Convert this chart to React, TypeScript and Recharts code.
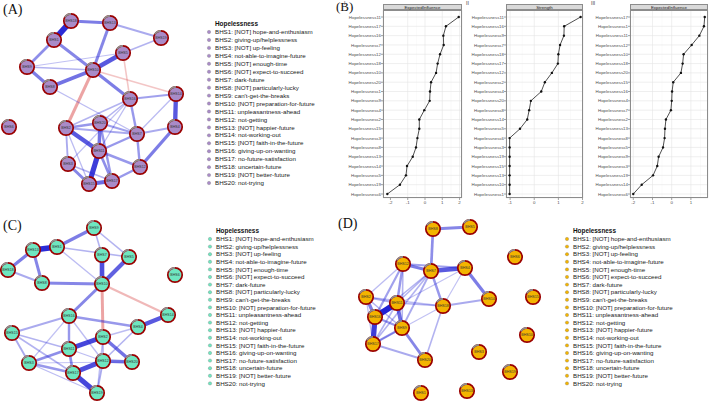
import React from "react";
import {
  ScatterChart,
  Scatter,
  XAxis,
  YAxis,
  LineChart,
  Line,
  CartesianGrid,
} from "recharts";

// legend texts shared by the three network panels
const bhsLabels = [
  "BHS1: [NOT] hope-and-enthusiasm",
  "BHS2: giving-up/helplessness",
  "BHS3: [NOT] up-feeling",
  "BHS4: not-able-to-imagine-future",
  "BHS5: [NOT] enough-time",
  "BHS6: [NOT] expect-to-succeed",
  "BHS7: dark-future",
  "BHS8: [NOT] particularly-lucky",
  "BHS9: can't-get-the-breaks",
  "BHS10: [NOT] preparation-for-future",
  "BHS11: unpleasantness-ahead",
  "BHS12: not-getting",
  "BHS13: [NOT] happier-future",
  "BHS14: not-working-out",
  "BHS15: [NOT] faith-in-the-future",
  "BHS16: giving-up-on-wanting",
  "BHS17: no-future-satisfaction",
  "BHS18: uncertain-future",
  "BHS19: [NOT] better-future",
  "BHS20: not-trying",
];

type Node = { id: string; x: number; y: number };
type Edge = [string, string, number];

// layout coordinates (qgraph style, -1..1)
const nodesA: Node[] = [
  { id: "BHS18", x: -0.29, y: 0.79 },
  { id: "BHS13", x: 0.1, y: 0.77 },
  { id: "BHS1", x: -0.46, y: 0.6 },
  { id: "BHS19", x: 0.61, y: 0.62 },
  { id: "BHS5", x: 0.23, y: 0.47 },
  { id: "BHS9", x: -0.73, y: 0.33 },
  { id: "BHS10", x: -0.07, y: 0.3 },
  { id: "BHS8", x: -0.5, y: 0.13 },
  { id: "BHS14", x: 0.76, y: 0.06 },
  { id: "BHS16", x: 0.3, y: 0.01 },
  { id: "BHS6", x: -0.91, y: -0.27 },
  { id: "BHS2", x: -0.34, y: -0.28 },
  { id: "BHS20", x: 0.0, y: -0.23 },
  { id: "BHS7", x: 0.37, y: -0.34 },
  { id: "BHS4", x: 0.75, y: -0.27 },
  { id: "BHS11", x: -0.01, y: -0.51 },
  { id: "BHS3", x: -0.32, y: -0.64 },
  { id: "BHS12", x: 0.4, y: -0.67 },
  { id: "BHS15", x: -0.11, y: -0.84 },
  { id: "BHS17", x: 0.12, y: -0.81 },
];

const edgesA: Edge[] = [
  ["BHS18", "BHS1", 0.95],
  ["BHS18", "BHS13", 0.5],
  ["BHS13", "BHS10", 0.45],
  ["BHS13", "BHS19", 0.25],
  ["BHS19", "BHS5", 0.2],
  ["BHS1", "BHS9", 0.4],
  ["BHS1", "BHS10", 0.45],
  ["BHS9", "BHS8", 0.5],
  ["BHS9", "BHS10", 0.2],
  ["BHS9", "BHS5", 0.12],
  ["BHS5", "BHS10", 0.7],
  ["BHS8", "BHS10", 0.55],
  ["BHS10", "BHS16", 0.5],
  ["BHS10", "BHS2", -0.45],
  ["BHS10", "BHS14", -0.2],
  ["BHS5", "BHS16", -0.2],
  ["BHS14", "BHS16", 0.3],
  ["BHS14", "BHS4", 0.7],
  ["BHS8", "BHS7", 0.15],
  ["BHS16", "BHS2", 0.2],
  ["BHS16", "BHS20", 0.2],
  ["BHS16", "BHS7", 0.35],
  ["BHS16", "BHS11", 0.15],
  ["BHS16", "BHS3", 0.12],
  ["BHS2", "BHS20", 0.35],
  ["BHS2", "BHS7", 0.25],
  ["BHS2", "BHS11", 0.7],
  ["BHS2", "BHS3", 0.25],
  ["BHS2", "BHS15", 0.15],
  ["BHS20", "BHS11", 0.55],
  ["BHS20", "BHS17", 0.35],
  ["BHS20", "BHS7", 0.3],
  ["BHS11", "BHS15", 0.85],
  ["BHS11", "BHS17", 0.4],
  ["BHS11", "BHS12", 0.35],
  ["BHS7", "BHS4", 0.25],
  ["BHS7", "BHS11", 0.35],
  ["BHS7", "BHS12", 0.35],
  ["BHS4", "BHS12", 0.5],
  ["BHS3", "BHS15", 0.45],
  ["BHS3", "BHS17", 0.2],
  ["BHS15", "BHS17", 0.6],
  ["BHS17", "BHS12", 0.35],
  ["BHS14", "BHS7", 0.15],
];

const nodesC: Node[] = [
  { id: "BHS9", x: -0.06, y: 0.77 },
  { id: "BHS13", x: -0.67, y: 0.55 },
  { id: "BHS1", x: -0.43, y: 0.58 },
  { id: "BHS7", x: 0.02, y: 0.5 },
  { id: "BHS5", x: 0.29, y: 0.48 },
  { id: "BHS18", x: -0.92, y: 0.35 },
  { id: "BHS6", x: 0.75, y: 0.3 },
  { id: "BHS8", x: -0.58, y: 0.22 },
  { id: "BHS10", x: 0.02, y: 0.21 },
  { id: "BHS16", x: -0.31, y: -0.11 },
  { id: "BHS14", x: 0.68, y: -0.1 },
  { id: "BHS15", x: -0.88, y: -0.28 },
  { id: "BHS4", x: 0.38, y: -0.22 },
  { id: "BHS2", x: 0.03, y: -0.32 },
  { id: "BHS11", x: -0.31, y: -0.44 },
  { id: "BHS3", x: -0.71, y: -0.58 },
  { id: "BHS12", x: 0.03, y: -0.56 },
  { id: "BHS20", x: 0.32, y: -0.57 },
  { id: "BHS17", x: -0.27, y: -0.68 },
  { id: "BHS19", x: -0.03, y: -0.88 },
];

const edgesC: Edge[] = [
  ["BHS9", "BHS1", 0.5],
  ["BHS9", "BHS7", 0.2],
  ["BHS9", "BHS5", 0.2],
  ["BHS13", "BHS1", 0.95],
  ["BHS13", "BHS18", 0.5],
  ["BHS13", "BHS8", 0.45],
  ["BHS1", "BHS5", 0.2],
  ["BHS1", "BHS10", 0.15],
  ["BHS18", "BHS8", 0.25],
  ["BHS8", "BHS10", 0.45],
  ["BHS7", "BHS10", 0.75],
  ["BHS5", "BHS10", 0.65],
  ["BHS10", "BHS16", 0.45],
  ["BHS10", "BHS2", -0.45],
  ["BHS10", "BHS14", -0.3],
  ["BHS14", "BHS4", 0.7],
  ["BHS16", "BHS4", 0.35],
  ["BHS16", "BHS15", 0.25],
  ["BHS16", "BHS3", 0.12],
  ["BHS16", "BHS11", 0.35],
  ["BHS16", "BHS12", 0.15],
  ["BHS15", "BHS11", 0.2],
  ["BHS15", "BHS3", 0.25],
  ["BHS15", "BHS17", 0.2],
  ["BHS4", "BHS2", 0.15],
  ["BHS4", "BHS12", 0.2],
  ["BHS2", "BHS11", 0.8],
  ["BHS2", "BHS20", 0.55],
  ["BHS2", "BHS12", 0.2],
  ["BHS11", "BHS3", 0.4],
  ["BHS11", "BHS17", 0.4],
  ["BHS11", "BHS12", 0.15],
  ["BHS3", "BHS17", 0.35],
  ["BHS3", "BHS20", 0.1],
  ["BHS12", "BHS20", 0.55],
  ["BHS12", "BHS17", 0.75],
  ["BHS17", "BHS19", 0.8],
  ["BHS12", "BHS19", 0.25],
  ["BHS3", "BHS19", 0.15],
  ["BHS2", "BHS19", 0.15],
];

const nodesD: Node[] = [
  { id: "BHS8", x: -0.22, y: 0.76 },
  { id: "BHS5", x: 0.15, y: 0.78 },
  { id: "BHS6", x: 0.6, y: 0.48 },
  { id: "BHS12", x: -0.52, y: 0.41 },
  { id: "BHS7", x: -0.24, y: 0.34 },
  { id: "BHS4", x: 0.1, y: 0.37 },
  { id: "BHS2", x: -0.89, y: 0.08 },
  { id: "BHS11", x: -0.58, y: 0.02 },
  { id: "BHS18", x: -0.12, y: -0.01 },
  { id: "BHS14", x: 0.34, y: 0.06 },
  { id: "BHS15", x: 0.78, y: 0.08 },
  { id: "BHS16", x: -0.8, y: -0.12 },
  { id: "BHS9", x: -0.53, y: -0.23 },
  { id: "BHS10", x: 0.72, y: -0.3 },
  { id: "BHS17", x: -0.82, y: -0.39 },
  { id: "BHS3", x: 0.24, y: -0.47 },
  { id: "BHS20", x: -0.3, y: -0.55 },
  { id: "BHS19", x: 0.55, y: -0.67 },
  { id: "BHS1", x: -0.34, y: -0.88 },
  { id: "BHS13", x: 0.12, y: -0.86 },
];

const edgesD: Edge[] = [
  ["BHS8", "BHS5", 0.45],
  ["BHS8", "BHS7", 0.4],
  ["BHS12", "BHS7", 0.5],
  ["BHS7", "BHS4", 0.7],
  ["BHS12", "BHS4", 0.3],
  ["BHS12", "BHS2", 0.15],
  ["BHS12", "BHS11", 0.35],
  ["BHS12", "BHS16", 0.3],
  ["BHS12", "BHS9", 0.2],
  ["BHS7", "BHS18", 0.35],
  ["BHS7", "BHS11", 0.2],
  ["BHS7", "BHS16", 0.2],
  ["BHS7", "BHS17", 0.2],
  ["BHS7", "BHS9", 0.25],
  ["BHS4", "BHS14", 0.5],
  ["BHS4", "BHS18", 0.12],
  ["BHS4", "BHS16", 0.12],
  ["BHS2", "BHS11", 0.25],
  ["BHS2", "BHS16", 0.5],
  ["BHS2", "BHS9", 0.2],
  ["BHS2", "BHS18", 0.15],
  ["BHS11", "BHS16", 1.0],
  ["BHS11", "BHS9", 0.6],
  ["BHS11", "BHS18", 0.2],
  ["BHS11", "BHS17", 0.2],
  ["BHS16", "BHS17", 0.85],
  ["BHS16", "BHS9", 0.35],
  ["BHS17", "BHS9", 0.35],
  ["BHS17", "BHS20", 0.25],
  ["BHS9", "BHS20", 0.45],
  ["BHS18", "BHS14", 0.25],
  ["BHS18", "BHS20", 0.2],
  ["BHS18", "BHS17", 0.12],
  ["BHS2", "BHS17", 0.15],
];

// centrality plots (top to bottom)
const centINames = [
  "Hopelessness11", "Hopelessness17", "Hopelessness16", "Hopelessness7",
  "Hopelessness12", "Hopelessness18", "Hopelessness10", "Hopelessness20",
  "Hopelessness1", "Hopelessness9", "Hopelessness4", "Hopelessness2",
  "Hopelessness15", "Hopelessness3", "Hopelessness8", "Hopelessness13",
  "Hopelessness14", "Hopelessness5", "Hopelessness19", "Hopelessness6",
];
const centIValues = [
  1.95, 1.21, 1.06, 1.08, 0.87, 0.73, 0.64, 0.35, 0.29, 0.27,
  -0.04, -0.33, -0.33, -0.44, -0.52, -0.71, -1.04, -1.1, -1.45, -2.18,
];

const centIINames = [
  "Hopelessness11", "Hopelessness16", "Hopelessness9", "Hopelessness7",
  "Hopelessness18", "Hopelessness17", "Hopelessness12", "Hopelessness2",
  "Hopelessness4", "Hopelessness20", "Hopelessness8", "Hopelessness14",
  "Hopelessness5", "Hopelessness6", "Hopelessness3", "Hopelessness19",
  "Hopelessness15", "Hopelessness13", "Hopelessness10", "Hopelessness1",
];
const centIIValues = [
  1.92, 1.24, 1.23, 1.07, 1.0, 0.98, 0.73, 0.44, 0.29, -0.14,
  -0.21, -0.29, -0.59, -1.02, -1.02, -1.02, -1.02, -1.02, -1.02, -1.02,
];

const centIIINames = [
  "Hopelessness17", "Hopelessness1", "Hopelessness11", "Hopelessness12",
  "Hopelessness10", "Hopelessness18", "Hopelessness20", "Hopelessness15",
  "Hopelessness16", "Hopelessness4", "Hopelessness7", "Hopelessness2",
  "Hopelessness13", "Hopelessness8", "Hopelessness5", "Hopelessness9",
  "Hopelessness3", "Hopelessness19", "Hopelessness14", "Hopelessness6",
];
const centIIIValues = [
  1.72, 1.68, 1.44, 1.04, 0.62, 0.57, 0.48, 0.08, 0.02, 0.0,
  -0.04, -0.3, -0.35, -0.37, -0.45, -0.68, -0.75, -0.97, -1.56, -2.0,
];

const SANS = "'Liberation Sans', Arial, sans-serif";
const SERIF = "'Liberation Serif', 'Times New Roman', serif";

function NodeShape(props: any) {
  const { cx, cy, payload, color } = props;
  const r = 7.2;
  const ax = cx - 0.866 * r;
  const ay = cy - 0.5 * r;
  return (
    <g>
      <circle cx={cx} cy={cy} r={r} fill={color} stroke="#9a0000" strokeWidth={1.7} />
      <path
        d={`M${ax},${ay} A${r},${r} 0 0 1 ${cx},${cy - r}`}
        fill="none"
        stroke="#8f8f8f"
        strokeWidth={1.7}
      />
      <text
        x={cx}
        y={cy + 1.2}
        textAnchor="middle"
        fontSize={3.6}
        fill="#333"
        fontFamily={SANS}
      >
        {payload.id}
      </text>
    </g>
  );
}

function Network({
  nodes,
  edges,
  color,
  left,
  top,
}: {
  nodes: Node[];
  edges: Edge[];
  color: string;
  left: number;
  top: number;
}) {
  const byId: Record<string, Node> = {};
  nodes.forEach((n) => (byId[n.id] = n));
  return (
    <div style={{ position: "absolute", left, top }}>
      <ScatterChart width={200} height={200} margin={{ top: 0, right: 0, bottom: 0, left: 0 }}>
        <XAxis type="number" dataKey="x" domain={[-1, 1]} hide />
        <YAxis type="number" dataKey="y" domain={[-1, 1]} hide />
        {edges.map(([a, b, w], i) => (
          <Scatter
            key={i}
            data={[byId[a], byId[b]]}
            line={{
              stroke: w < 0 ? "#dd5a5a" : "#2222d4",
              strokeWidth: 0.5 + Math.abs(w) * 5.5,
              strokeOpacity: Math.min(1, 0.18 + Math.abs(w) * 0.82),
            }}
            shape={() => <g />}
            isAnimationActive={false}
          />
        ))}
        <Scatter
          data={nodes}
          shape={(p: any) => <NodeShape {...p} color={color} />}
          isAnimationActive={false}
        />
      </ScatterChart>
    </div>
  );
}

function NetLegend({
  left,
  top,
  color,
  step,
}: {
  left: number;
  top: number;
  color: string;
  step: number;
}) {
  return (
    <svg
      style={{ position: "absolute", left, top }}
      width={150}
      height={175}
      fontFamily={SANS}
    >
      <text x={10} y={8.2} fontSize={6.4} fontWeight="bold" fill="#111">
        Hopelessness
      </text>
      {bhsLabels.map((t, i) => (
        <g key={t}>
          <circle cx={4} cy={14 + i * step} r={1.7} fill={color} stroke="#777" strokeWidth={0.3} />
          <text x={10} y={16.1 + i * step} fontSize={6.2} fill="#222">
            {t}
          </text>
        </g>
      ))}
    </svg>
  );
}

function Centrality({
  names,
  values,
  domain,
  ticks,
  minor,
  title,
  left,
  width,
}: {
  names: string[];
  values: number[];
  domain: [number, number];
  ticks: number[];
  minor: number[];
  title: string;
  left: number;
  width: number;
}) {
  const data = names.map((n, i) => ({ name: n, value: values[i] }));
  const plotLeft = left + 38;
  const plotWidth = width - 39;
  return (
    <>
      <div style={{ position: "absolute", left, top: 0 }}>
        <LineChart
          layout="vertical"
          width={width}
          height={210}
          data={data}
          margin={{ top: 10, right: 1, bottom: 2, left: 2 }}
        >
          <CartesianGrid stroke="#f4f4f4" strokeWidth={0.5} horizontal={false} verticalValues={minor} />
          <CartesianGrid stroke="#e4e4e4" strokeWidth={0.6} />
          <XAxis
            type="number"
            dataKey="value"
            domain={domain}
            ticks={ticks}
            height={10}
            tickSize={2}
            tickMargin={1}
            axisLine={false}
            tickLine={{ stroke: "#444", strokeWidth: 0.5 }}
            tick={{ fontSize: 4.4, fill: "#4d4d4d", fontFamily: SANS }}
            allowDataOverflow
          />
          <YAxis
            type="category"
            dataKey="name"
            scale="point"
            width={36}
            interval={0}
            tickSize={2}
            tickMargin={0}
            axisLine={false}
            tickLine={{ stroke: "#444", strokeWidth: 0.5 }}
            tick={{ fontSize: 4.4, fill: "#4d4d4d", fontFamily: SANS }}
            padding={{ top: 7, bottom: 4 }}
          />
          <Line
            dataKey="value"
            stroke="#222"
            strokeWidth={0.8}
            dot={{ r: 1.2, fill: "#111", stroke: "#111", strokeWidth: 0 }}
            isAnimationActive={false}
          />
        </LineChart>
      </div>
      <div
        style={{
          position: "absolute",
          left: plotLeft,
          top: 10,
          width: plotWidth,
          height: 188,
          boxSizing: "border-box",
          border: "0.6px solid #8c8c8c",
        }}
      />
      <div
        style={{
          position: "absolute",
          left: plotLeft,
          top: 4,
          width: plotWidth,
          height: 6,
          boxSizing: "border-box",
          background: "#d9d9d9",
          border: "0.6px solid #8c8c8c",
          fontFamily: SANS,
          fontSize: 4.4,
          lineHeight: "5px",
          textAlign: "center",
          color: "#1a1a1a",
        }}
      >
        {title}
      </div>
    </>
  );
}

const panelLabel = (text: string, left: number, top: number, size = 14) => (
  <div
    style={{
      position: "absolute",
      left,
      top,
      fontFamily: SERIF,
      fontSize: size,
      lineHeight: `${size}px`,
      color: "#111",
    }}
  >
    {text}
  </div>
);

const roman = (text: string, left: number) => (
  <div
    style={{
      position: "absolute",
      left,
      top: 0,
      fontFamily: SANS,
      fontSize: 5,
      lineHeight: "6px",
      color: "#333",
    }}
  >
    {text}
  </div>
);

export default function App() {
  return (
    <div
      style={{
        position: "absolute",
        left: 0,
        top: 0,
        width: 709,
        height: 405,
        overflow: "hidden",
        background: "#fff",
      }}
    >
      <Network nodes={nodesA} edges={edgesA} color="#a98bc8" left={0} top={0} />
      <NetLegend left={205} top={18} color="#a98bc8" step={7.95} />

      <Network nodes={nodesC} edges={edgesC} color="#6fe6c0" left={0} top={205} />
      <NetLegend left={206} top={225} color="#6fe6c0" step={7.6} />

      <Network nodes={nodesD} edges={edgesD} color="#f3b400" left={355} top={205} />
      <NetLegend left={563} top={225} color="#f3b400" step={7.6} />

      <Centrality
        names={centINames}
        values={centIValues}
        domain={[-2.43, 2.14]}
        ticks={[-2, -1, 0, 1, 2]}
        minor={[-1.5, -0.5, 0.5, 1.5]}
        title="ExpectedInfluence"
        left={345}
        width={118}
      />
      <Centrality
        names={centIINames}
        values={centIIValues}
        domain={[-1.17, 2.02]}
        ticks={[-1, 0, 1, 2]}
        minor={[-0.5, 0.5, 1.5]}
        title="Strength"
        left={468}
        width={116}
      />
      <Centrality
        names={centIIINames}
        values={centIIIValues}
        domain={[-2.17, 1.89]}
        ticks={[-2, -1, 0, 1]}
        minor={[-1.5, -0.5, 0.5, 1.5]}
        title="ExpectedInfluence"
        left={592}
        width={117}
      />

      {panelLabel("(A)", 3, 3)}
      {panelLabel("(B)", 336, 0, 13)}
      {panelLabel("(C)", 3, 219)}
      {panelLabel("(D)", 338, 217)}
      {roman("I", 344)}
      {roman("II", 466)}
      {roman("III", 591)}
    </div>
  );
}
